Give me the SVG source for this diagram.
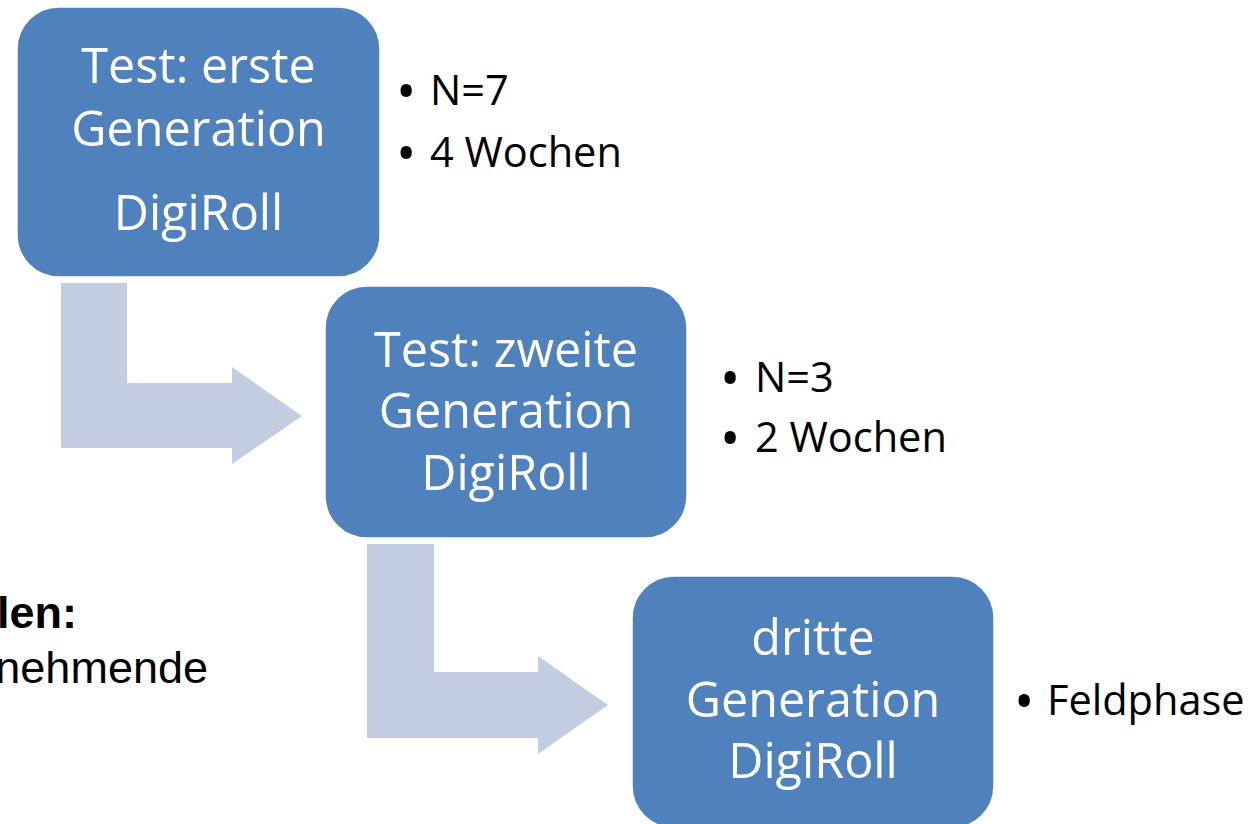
<svg xmlns="http://www.w3.org/2000/svg" width="1258" height="824" viewBox="0 0 1258 824">
  <style>
    .box { fill: #4F81BD; stroke: #FFFFFF; stroke-width: 1.5; }
    .arrow { fill: #C3CDE1; }
    .bt { font-family: "Open Sans", "Noto Sans", sans-serif; font-size: 48.5px; fill: #FFFFFF; text-anchor: middle; }
    .bl { font-family: "Open Sans", "Noto Sans", sans-serif; font-size: 41.5px; fill: #000000; }
    .dot { font-size: 54px; }
    .side { font-family: "Liberation Sans", Arial, sans-serif; font-size: 45px; fill: #000000; text-anchor: end; }
  </style>
  <rect width="1258" height="824" fill="#FFFFFF"/>
  <g id="connectors">
    <path class="arrow" d="M61,283 L127,283 L127,383 L232,383 L232,367 L302,416 L232,464 L232,448 L61,448 Z"/>
    <path class="arrow" d="M367,544 L434,544 L434,672 L538,672 L538,656 L608,705 L538,754 L538,738 L367,738 Z"/>
  </g>
  <g id="node1">
    <rect class="box" x="17" y="7" width="363" height="270" rx="42"/>
    <text class="bt" x="198.5" y="83">Test: erste</text>
    <text class="bt" x="198.5" y="146">Generation</text>
    <text class="bt" x="198.5" y="230">DigiRoll</text>
  </g>
  <g id="node1-notes">
    <text class="bl" x="396" y="111"><tspan class="dot">•</tspan><tspan x="430" y="105">N=7</tspan></text>
    <text class="bl" x="396" y="173"><tspan class="dot">•</tspan><tspan x="430" y="167">4 Wochen</tspan></text>
  </g>
  <g id="node2">
    <rect class="box" x="325" y="286" width="362" height="252" rx="42"/>
    <text class="bt" x="506" y="367">Test: zweite</text>
    <text class="bt" x="506" y="428">Generation</text>
    <text class="bt" x="506" y="490">DigiRoll</text>
  </g>
  <g id="node2-notes">
    <text class="bl" x="720" y="398"><tspan class="dot">•</tspan><tspan x="755" y="392">N=3</tspan></text>
    <text class="bl" x="720" y="458"><tspan class="dot">•</tspan><tspan x="755" y="452">2 Wochen</tspan></text>
  </g>
  <g id="node3">
    <rect class="box" x="632" y="576" width="362" height="252" rx="42"/>
    <text class="bt" x="813" y="655">dritte</text>
    <text class="bt" x="813" y="717">Generation</text>
    <text class="bt" x="813" y="778">DigiRoll</text>
  </g>
  <g id="node3-notes">
    <text class="bl" x="1014" y="721"><tspan class="dot">•</tspan><tspan x="1047" y="715">Feldphase</tspan></text>
  </g>
  <g id="side-text">
    <text class="side" x="77" y="628" font-weight="bold">len:</text>
    <text class="side" x="208" y="683">nehmende</text>
  </g>
</svg>
